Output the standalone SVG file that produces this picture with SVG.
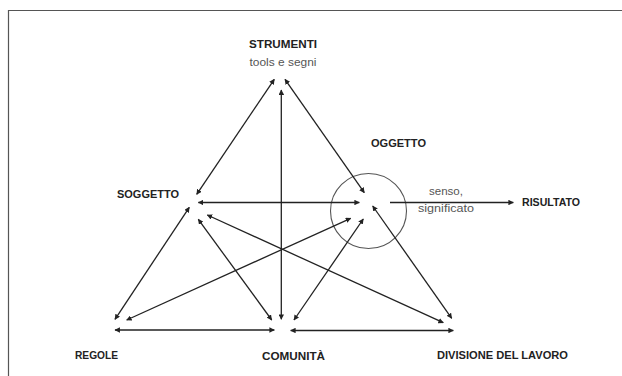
<svg xmlns="http://www.w3.org/2000/svg" width="622" height="376" viewBox="0 0 622 376">
<style>
.lbl{font-family:"Liberation Sans",Arial,sans-serif;font-weight:bold;font-size:10.5px;fill:#222}
.sub{font-family:"Liberation Sans",Arial,sans-serif;font-size:10.5px;fill:#555}
.c{stroke:#222;stroke-width:1.3;fill:none}
</style>
<defs>
<marker id="ah" viewBox="0 0 10 10" refX="9" refY="5" markerWidth="4.2" markerHeight="4.2" orient="auto-start-reverse" markerUnits="strokeWidth">
<path d="M0,0 L10,5 L0,10 z" fill="#222"/>
</marker>
</defs>
<rect x="0" y="0" width="622" height="376" fill="#fff"/>
<path d="M8.5,376 V10.5 H622" fill="none" stroke="#555" stroke-width="1.2"/>
<g id="strumenti">
<text class="lbl" x="283" y="48" text-anchor="middle" textLength="68" lengthAdjust="spacingAndGlyphs">STRUMENTI</text>
<text class="sub" x="283" y="66" text-anchor="middle" textLength="67" lengthAdjust="spacingAndGlyphs">tools e segni</text>
</g>
<g id="oggetto">
<text class="lbl" x="398.5" y="147" text-anchor="middle" textLength="55" lengthAdjust="spacingAndGlyphs">OGGETTO</text>
<ellipse cx="368.5" cy="211" rx="38" ry="37.5" fill="none" stroke="#555" stroke-width="1.1"/>
</g>
<g id="soggetto">
<text class="lbl" x="148" y="198" text-anchor="middle" textLength="62" lengthAdjust="spacingAndGlyphs">SOGGETTO</text>
</g>
<g id="risultato">
<text class="lbl" x="551" y="206" text-anchor="middle" textLength="58" lengthAdjust="spacingAndGlyphs">RISULTATO</text>
<text class="sub" x="446" y="195" text-anchor="middle" textLength="34" lengthAdjust="spacingAndGlyphs">senso,</text>
<text class="sub" x="446" y="212" text-anchor="middle" textLength="56" lengthAdjust="spacingAndGlyphs">significato</text>
</g>
<g id="regole">
<text class="lbl" x="96.5" y="359" text-anchor="middle" textLength="43" lengthAdjust="spacingAndGlyphs">REGOLE</text>
</g>
<g id="comunita">
<text class="lbl" x="293.5" y="360" text-anchor="middle" textLength="63" lengthAdjust="spacingAndGlyphs">COMUNITÀ</text>
</g>
<g id="divisione">
<text class="lbl" x="502.5" y="359" text-anchor="middle" textLength="131" lengthAdjust="spacingAndGlyphs">DIVISIONE DEL LAVORO</text>
</g>
<g id="connectors" class="c" marker-start="url(#ah)" marker-end="url(#ah)">
<line x1="274.3" y1="79.3" x2="196.7" y2="194.3"/>
<line x1="285" y1="79.3" x2="364.3" y2="192.7"/>
<line x1="281.3" y1="90" x2="281.3" y2="319.3"/>
<line x1="198.3" y1="202.5" x2="359.3" y2="202.5"/>
<line x1="189.3" y1="207.3" x2="115" y2="319.3"/>
<line x1="198.3" y1="219.3" x2="271.7" y2="320"/>
<line x1="207.3" y1="215" x2="443.3" y2="322.7"/>
<line x1="350.7" y1="218.3" x2="126.7" y2="320"/>
<line x1="363.3" y1="219" x2="294" y2="320"/>
<line x1="372.7" y1="206" x2="451.7" y2="318.3"/>
<line x1="115" y1="330" x2="274.3" y2="330"/>
<line x1="290.7" y1="330.5" x2="453.3" y2="330.5"/>
<line x1="390" y1="202.5" x2="513.3" y2="202.5" marker-start="none"/>
</g>
</svg>
